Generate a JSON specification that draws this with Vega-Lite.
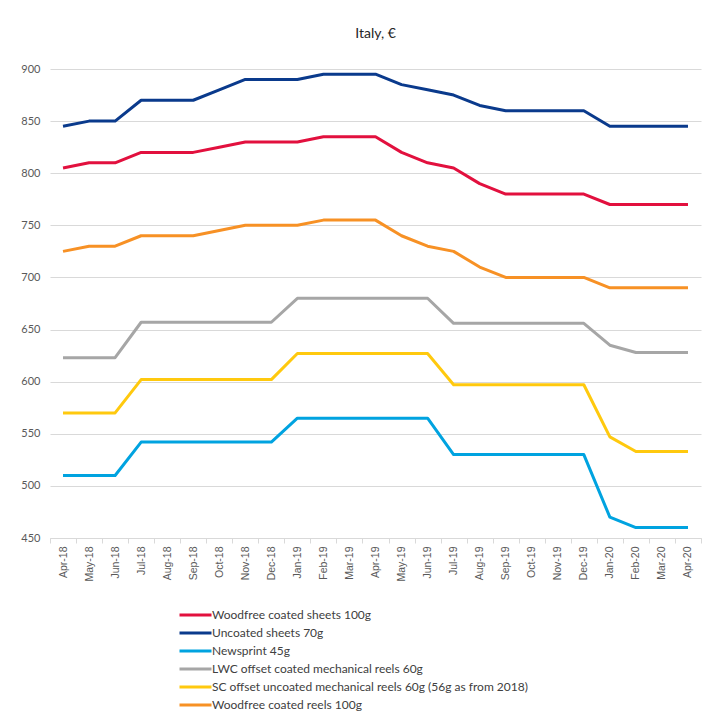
{
  "$schema": "https://vega.github.io/schema/vega-lite/v6.json",
  "autosize": "none",
  "padding": {"left": 50, "top": 69, "right": 7, "bottom": 182},
  "width": 651,
  "height": 469,
  "background": "white",
  "title": {"text": "Italy, €", "fontSize": 14, "font": "Lato", "fontWeight": "normal", "color": "#262626", "offset": 22, "anchor": "middle"},
  "config": {"view": {"stroke": null}, "font": "Lato"},
  "data": {"values": [
    {"m":"Apr-18","s":"Woodfree coated sheets 100g","v":805},{"m":"May-18","s":"Woodfree coated sheets 100g","v":810},{"m":"Jun-18","s":"Woodfree coated sheets 100g","v":810},{"m":"Jul-18","s":"Woodfree coated sheets 100g","v":820},{"m":"Aug-18","s":"Woodfree coated sheets 100g","v":820},{"m":"Sep-18","s":"Woodfree coated sheets 100g","v":820},{"m":"Oct-18","s":"Woodfree coated sheets 100g","v":825},{"m":"Nov-18","s":"Woodfree coated sheets 100g","v":830},{"m":"Dec-18","s":"Woodfree coated sheets 100g","v":830},{"m":"Jan-19","s":"Woodfree coated sheets 100g","v":830},{"m":"Feb-19","s":"Woodfree coated sheets 100g","v":835},{"m":"Mar-19","s":"Woodfree coated sheets 100g","v":835},{"m":"Apr-19","s":"Woodfree coated sheets 100g","v":835},{"m":"May-19","s":"Woodfree coated sheets 100g","v":820},{"m":"Jun-19","s":"Woodfree coated sheets 100g","v":810},{"m":"Jul-19","s":"Woodfree coated sheets 100g","v":805},{"m":"Aug-19","s":"Woodfree coated sheets 100g","v":790},{"m":"Sep-19","s":"Woodfree coated sheets 100g","v":780},{"m":"Oct-19","s":"Woodfree coated sheets 100g","v":780},{"m":"Nov-19","s":"Woodfree coated sheets 100g","v":780},{"m":"Dec-19","s":"Woodfree coated sheets 100g","v":780},{"m":"Jan-20","s":"Woodfree coated sheets 100g","v":770},{"m":"Feb-20","s":"Woodfree coated sheets 100g","v":770},{"m":"Mar-20","s":"Woodfree coated sheets 100g","v":770},{"m":"Apr-20","s":"Woodfree coated sheets 100g","v":770},
    {"m":"Apr-18","s":"Uncoated sheets 70g","v":845},{"m":"May-18","s":"Uncoated sheets 70g","v":850},{"m":"Jun-18","s":"Uncoated sheets 70g","v":850},{"m":"Jul-18","s":"Uncoated sheets 70g","v":870},{"m":"Aug-18","s":"Uncoated sheets 70g","v":870},{"m":"Sep-18","s":"Uncoated sheets 70g","v":870},{"m":"Oct-18","s":"Uncoated sheets 70g","v":880},{"m":"Nov-18","s":"Uncoated sheets 70g","v":890},{"m":"Dec-18","s":"Uncoated sheets 70g","v":890},{"m":"Jan-19","s":"Uncoated sheets 70g","v":890},{"m":"Feb-19","s":"Uncoated sheets 70g","v":895},{"m":"Mar-19","s":"Uncoated sheets 70g","v":895},{"m":"Apr-19","s":"Uncoated sheets 70g","v":895},{"m":"May-19","s":"Uncoated sheets 70g","v":885},{"m":"Jun-19","s":"Uncoated sheets 70g","v":880},{"m":"Jul-19","s":"Uncoated sheets 70g","v":875},{"m":"Aug-19","s":"Uncoated sheets 70g","v":865},{"m":"Sep-19","s":"Uncoated sheets 70g","v":860},{"m":"Oct-19","s":"Uncoated sheets 70g","v":860},{"m":"Nov-19","s":"Uncoated sheets 70g","v":860},{"m":"Dec-19","s":"Uncoated sheets 70g","v":860},{"m":"Jan-20","s":"Uncoated sheets 70g","v":845},{"m":"Feb-20","s":"Uncoated sheets 70g","v":845},{"m":"Mar-20","s":"Uncoated sheets 70g","v":845},{"m":"Apr-20","s":"Uncoated sheets 70g","v":845},
    {"m":"Apr-18","s":"Newsprint 45g","v":510},{"m":"May-18","s":"Newsprint 45g","v":510},{"m":"Jun-18","s":"Newsprint 45g","v":510},{"m":"Jul-18","s":"Newsprint 45g","v":542},{"m":"Aug-18","s":"Newsprint 45g","v":542},{"m":"Sep-18","s":"Newsprint 45g","v":542},{"m":"Oct-18","s":"Newsprint 45g","v":542},{"m":"Nov-18","s":"Newsprint 45g","v":542},{"m":"Dec-18","s":"Newsprint 45g","v":542},{"m":"Jan-19","s":"Newsprint 45g","v":565},{"m":"Feb-19","s":"Newsprint 45g","v":565},{"m":"Mar-19","s":"Newsprint 45g","v":565},{"m":"Apr-19","s":"Newsprint 45g","v":565},{"m":"May-19","s":"Newsprint 45g","v":565},{"m":"Jun-19","s":"Newsprint 45g","v":565},{"m":"Jul-19","s":"Newsprint 45g","v":530},{"m":"Aug-19","s":"Newsprint 45g","v":530},{"m":"Sep-19","s":"Newsprint 45g","v":530},{"m":"Oct-19","s":"Newsprint 45g","v":530},{"m":"Nov-19","s":"Newsprint 45g","v":530},{"m":"Dec-19","s":"Newsprint 45g","v":530},{"m":"Jan-20","s":"Newsprint 45g","v":470},{"m":"Feb-20","s":"Newsprint 45g","v":460},{"m":"Mar-20","s":"Newsprint 45g","v":460},{"m":"Apr-20","s":"Newsprint 45g","v":460},
    {"m":"Apr-18","s":"LWC offset coated mechanical reels 60g","v":623},{"m":"May-18","s":"LWC offset coated mechanical reels 60g","v":623},{"m":"Jun-18","s":"LWC offset coated mechanical reels 60g","v":623},{"m":"Jul-18","s":"LWC offset coated mechanical reels 60g","v":657},{"m":"Aug-18","s":"LWC offset coated mechanical reels 60g","v":657},{"m":"Sep-18","s":"LWC offset coated mechanical reels 60g","v":657},{"m":"Oct-18","s":"LWC offset coated mechanical reels 60g","v":657},{"m":"Nov-18","s":"LWC offset coated mechanical reels 60g","v":657},{"m":"Dec-18","s":"LWC offset coated mechanical reels 60g","v":657},{"m":"Jan-19","s":"LWC offset coated mechanical reels 60g","v":680},{"m":"Feb-19","s":"LWC offset coated mechanical reels 60g","v":680},{"m":"Mar-19","s":"LWC offset coated mechanical reels 60g","v":680},{"m":"Apr-19","s":"LWC offset coated mechanical reels 60g","v":680},{"m":"May-19","s":"LWC offset coated mechanical reels 60g","v":680},{"m":"Jun-19","s":"LWC offset coated mechanical reels 60g","v":680},{"m":"Jul-19","s":"LWC offset coated mechanical reels 60g","v":656},{"m":"Aug-19","s":"LWC offset coated mechanical reels 60g","v":656},{"m":"Sep-19","s":"LWC offset coated mechanical reels 60g","v":656},{"m":"Oct-19","s":"LWC offset coated mechanical reels 60g","v":656},{"m":"Nov-19","s":"LWC offset coated mechanical reels 60g","v":656},{"m":"Dec-19","s":"LWC offset coated mechanical reels 60g","v":656},{"m":"Jan-20","s":"LWC offset coated mechanical reels 60g","v":635},{"m":"Feb-20","s":"LWC offset coated mechanical reels 60g","v":628},{"m":"Mar-20","s":"LWC offset coated mechanical reels 60g","v":628},{"m":"Apr-20","s":"LWC offset coated mechanical reels 60g","v":628},
    {"m":"Apr-18","s":"SC offset uncoated mechanical reels 60g (56g as from 2018)","v":570},{"m":"May-18","s":"SC offset uncoated mechanical reels 60g (56g as from 2018)","v":570},{"m":"Jun-18","s":"SC offset uncoated mechanical reels 60g (56g as from 2018)","v":570},{"m":"Jul-18","s":"SC offset uncoated mechanical reels 60g (56g as from 2018)","v":602},{"m":"Aug-18","s":"SC offset uncoated mechanical reels 60g (56g as from 2018)","v":602},{"m":"Sep-18","s":"SC offset uncoated mechanical reels 60g (56g as from 2018)","v":602},{"m":"Oct-18","s":"SC offset uncoated mechanical reels 60g (56g as from 2018)","v":602},{"m":"Nov-18","s":"SC offset uncoated mechanical reels 60g (56g as from 2018)","v":602},{"m":"Dec-18","s":"SC offset uncoated mechanical reels 60g (56g as from 2018)","v":602},{"m":"Jan-19","s":"SC offset uncoated mechanical reels 60g (56g as from 2018)","v":627},{"m":"Feb-19","s":"SC offset uncoated mechanical reels 60g (56g as from 2018)","v":627},{"m":"Mar-19","s":"SC offset uncoated mechanical reels 60g (56g as from 2018)","v":627},{"m":"Apr-19","s":"SC offset uncoated mechanical reels 60g (56g as from 2018)","v":627},{"m":"May-19","s":"SC offset uncoated mechanical reels 60g (56g as from 2018)","v":627},{"m":"Jun-19","s":"SC offset uncoated mechanical reels 60g (56g as from 2018)","v":627},{"m":"Jul-19","s":"SC offset uncoated mechanical reels 60g (56g as from 2018)","v":597},{"m":"Aug-19","s":"SC offset uncoated mechanical reels 60g (56g as from 2018)","v":597},{"m":"Sep-19","s":"SC offset uncoated mechanical reels 60g (56g as from 2018)","v":597},{"m":"Oct-19","s":"SC offset uncoated mechanical reels 60g (56g as from 2018)","v":597},{"m":"Nov-19","s":"SC offset uncoated mechanical reels 60g (56g as from 2018)","v":597},{"m":"Dec-19","s":"SC offset uncoated mechanical reels 60g (56g as from 2018)","v":597},{"m":"Jan-20","s":"SC offset uncoated mechanical reels 60g (56g as from 2018)","v":547},{"m":"Feb-20","s":"SC offset uncoated mechanical reels 60g (56g as from 2018)","v":533},{"m":"Mar-20","s":"SC offset uncoated mechanical reels 60g (56g as from 2018)","v":533},{"m":"Apr-20","s":"SC offset uncoated mechanical reels 60g (56g as from 2018)","v":533},
    {"m":"Apr-18","s":"Woodfree coated reels 100g","v":725},{"m":"May-18","s":"Woodfree coated reels 100g","v":730},{"m":"Jun-18","s":"Woodfree coated reels 100g","v":730},{"m":"Jul-18","s":"Woodfree coated reels 100g","v":740},{"m":"Aug-18","s":"Woodfree coated reels 100g","v":740},{"m":"Sep-18","s":"Woodfree coated reels 100g","v":740},{"m":"Oct-18","s":"Woodfree coated reels 100g","v":745},{"m":"Nov-18","s":"Woodfree coated reels 100g","v":750},{"m":"Dec-18","s":"Woodfree coated reels 100g","v":750},{"m":"Jan-19","s":"Woodfree coated reels 100g","v":750},{"m":"Feb-19","s":"Woodfree coated reels 100g","v":755},{"m":"Mar-19","s":"Woodfree coated reels 100g","v":755},{"m":"Apr-19","s":"Woodfree coated reels 100g","v":755},{"m":"May-19","s":"Woodfree coated reels 100g","v":740},{"m":"Jun-19","s":"Woodfree coated reels 100g","v":730},{"m":"Jul-19","s":"Woodfree coated reels 100g","v":725},{"m":"Aug-19","s":"Woodfree coated reels 100g","v":710},{"m":"Sep-19","s":"Woodfree coated reels 100g","v":700},{"m":"Oct-19","s":"Woodfree coated reels 100g","v":700},{"m":"Nov-19","s":"Woodfree coated reels 100g","v":700},{"m":"Dec-19","s":"Woodfree coated reels 100g","v":700},{"m":"Jan-20","s":"Woodfree coated reels 100g","v":690},{"m":"Feb-20","s":"Woodfree coated reels 100g","v":690},{"m":"Mar-20","s":"Woodfree coated reels 100g","v":690},{"m":"Apr-20","s":"Woodfree coated reels 100g","v":690}
  ]},
  "mark": {"type": "line", "strokeWidth": 3, "strokeJoin": "round"},
  "encoding": {
    "x": {
      "field": "m", "type": "nominal", "sort": null,
      "scale": {"type": "band", "paddingInner": 0, "paddingOuter": 0},
      "axis": {
        "title": null, "labelAngle": -90, "labelFontSize": 10.5, "labelColor": "#595959", "labelFont": "Liberation Sans",
        "domainColor": "#D9D9D9", "domainWidth": 1, "tickColor": "#D9D9D9", "tickSize": 5, "tickBand": "extent",
        "labelPadding": 3, "grid": false
      }
    },
    "y": {
      "field": "v", "type": "quantitative",
      "scale": {"domain": [450, 900], "nice": false, "zero": false},
      "axis": {
        "title": null, "values": [450, 500, 550, 600, 650, 700, 750, 800, 850, 900],
        "domain": false, "ticks": false, "labelPadding": 10, "labelFontSize": 11, "labelColor": "#595959",
        "gridColor": "#D9D9D9", "gridWidth": 1
      }
    },
    "color": {
      "field": "s", "type": "nominal",
      "scale": {
        "domain": ["Woodfree coated sheets 100g", "Uncoated sheets 70g", "Newsprint 45g", "LWC offset coated mechanical reels 60g", "SC offset uncoated mechanical reels 60g (56g as from 2018)", "Woodfree coated reels 100g"],
        "range": ["#E2103E", "#0A3A8C", "#00A3E0", "#A6A6A6", "#FFC90E", "#F79125"]
      },
      "legend": {
        "title": null, "orient": "none", "legendX": 128, "legendY": 537, "direction": "vertical",
        "symbolType": "stroke", "symbolSize": 1024, "symbolStrokeWidth": 3, "symbolOffset": 0,
        "clipHeight": 18,
        "labelFontSize": 12, "labelColor": "#404040", "labelOffset": -1, "rowPadding": 0, "labelLimit": 500
      }
    }
  }
}
